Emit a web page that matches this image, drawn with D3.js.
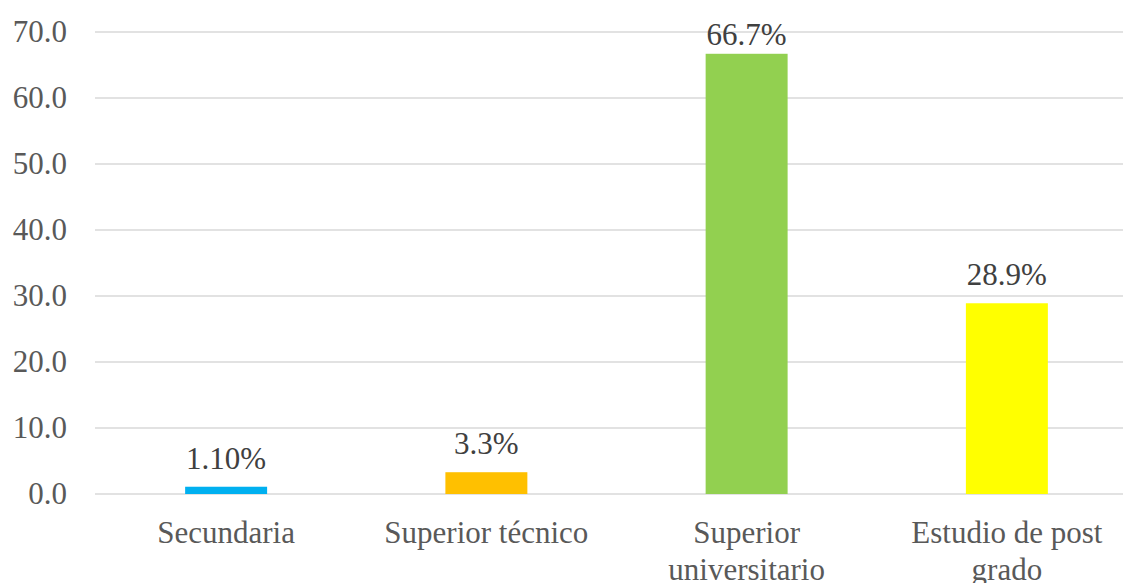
<!DOCTYPE html>
<html>
<head>
<meta charset="utf-8">
<script src="https://cdn.jsdelivr.net/npm/d3@7"></script>
<style>
  html, body { margin: 0; padding: 0; background: #fff; overflow: hidden; }
  svg { display: block; }
</style>
</head>
<body>
<svg id="chart" width="1123" height="583"></svg>
<script>
// Nivel de estudios (% de encuestados)
const categories = ["Secundaria", "Superior técnico", "Superior universitario", "Estudio de post grado"];
const values = [1.1, 3.3, 66.7, 28.9];
const valueLabels = ["1.10%", "3.3%", "66.7%", "28.9%"];
const colors = ["#00B0F0", "#FFC000", "#92D050", "#FFFF00"];
const yTicks = [0, 10, 20, 30, 40, 50, 60, 70];

const FONT = "'Liberation Serif', 'Times New Roman', serif";
const svg = d3.select("#chart");
const plotLeft = 96, plotRight = 1137, plotTop = 32, plotBottom = 494;

const x = d3.scaleBand().domain(categories).range([plotLeft, plotRight]).padding(0);
const y = d3.scaleLinear().domain([0, 70]).range([plotBottom, plotTop]);
const barW = x.bandwidth() * 0.315;

// Gridlines
svg.append("g").selectAll("line")
  .data(yTicks).join("line")
  .attr("x1", plotLeft - 1).attr("x2", plotRight)
  .attr("y1", d => y(d)).attr("y2", d => y(d))
  .attr("stroke", "#d9d9d9").attr("stroke-width", 1.5);

// Y axis labels
const yAxis = d3.axisLeft(y).tickValues(yTicks).tickFormat(d3.format(".1f")).tickSize(0).tickPadding(0);
const yg = svg.append("g").attr("transform", "translate(67,0)").call(yAxis);
yg.select(".domain").remove();
yg.selectAll("text")
  .style("font-family", FONT)
  .style("font-size", "31px").attr("fill", "#595959");

// Bars
svg.append("g").selectAll("rect")
  .data(categories).join("rect")
  .attr("x", d => x(d) + x.bandwidth() / 2 - barW / 2)
  .attr("width", barW)
  .attr("y", (d, i) => y(values[i]))
  .attr("height", (d, i) => y(0) - y(values[i]))
  .attr("fill", (d, i) => colors[i]);

// Value labels above bars (kept inside the top of the plot area)
svg.append("g").selectAll("text")
  .data(categories).join("text")
  .attr("x", d => x(d) + x.bandwidth() / 2)
  .attr("y", (d, i) => Math.max(y(values[i]) - 18, 45))
  .attr("text-anchor", "middle")
  .style("font-family", FONT).style("font-size", "31px")
  .attr("fill", "#404040")
  .text((d, i) => valueLabels[i]);

// Category labels, wrapped to the band width
const xg = svg.append("g");
categories.forEach(cat => {
  const cx = x(cat) + x.bandwidth() / 2;
  const t = xg.append("text")
    .attr("x", cx)
    .attr("y", 543)
    .attr("text-anchor", "middle")
    .style("font-family", FONT).style("font-size", "31px")
    .attr("fill", "#595959");
  const words = cat.split(" ");
  let line = [];
  let tspan = t.append("tspan").attr("x", cx).attr("dy", 0);
  words.forEach(w => {
    line.push(w);
    tspan.text(line.join(" "));
    if (tspan.node().getComputedTextLength() > x.bandwidth() - 20 && line.length > 1) {
      line.pop();
      tspan.text(line.join(" "));
      line = [w];
      tspan = t.append("tspan").attr("x", cx).attr("dy", 37).text(w);
    }
  });
});
</script>
</body>
</html>
